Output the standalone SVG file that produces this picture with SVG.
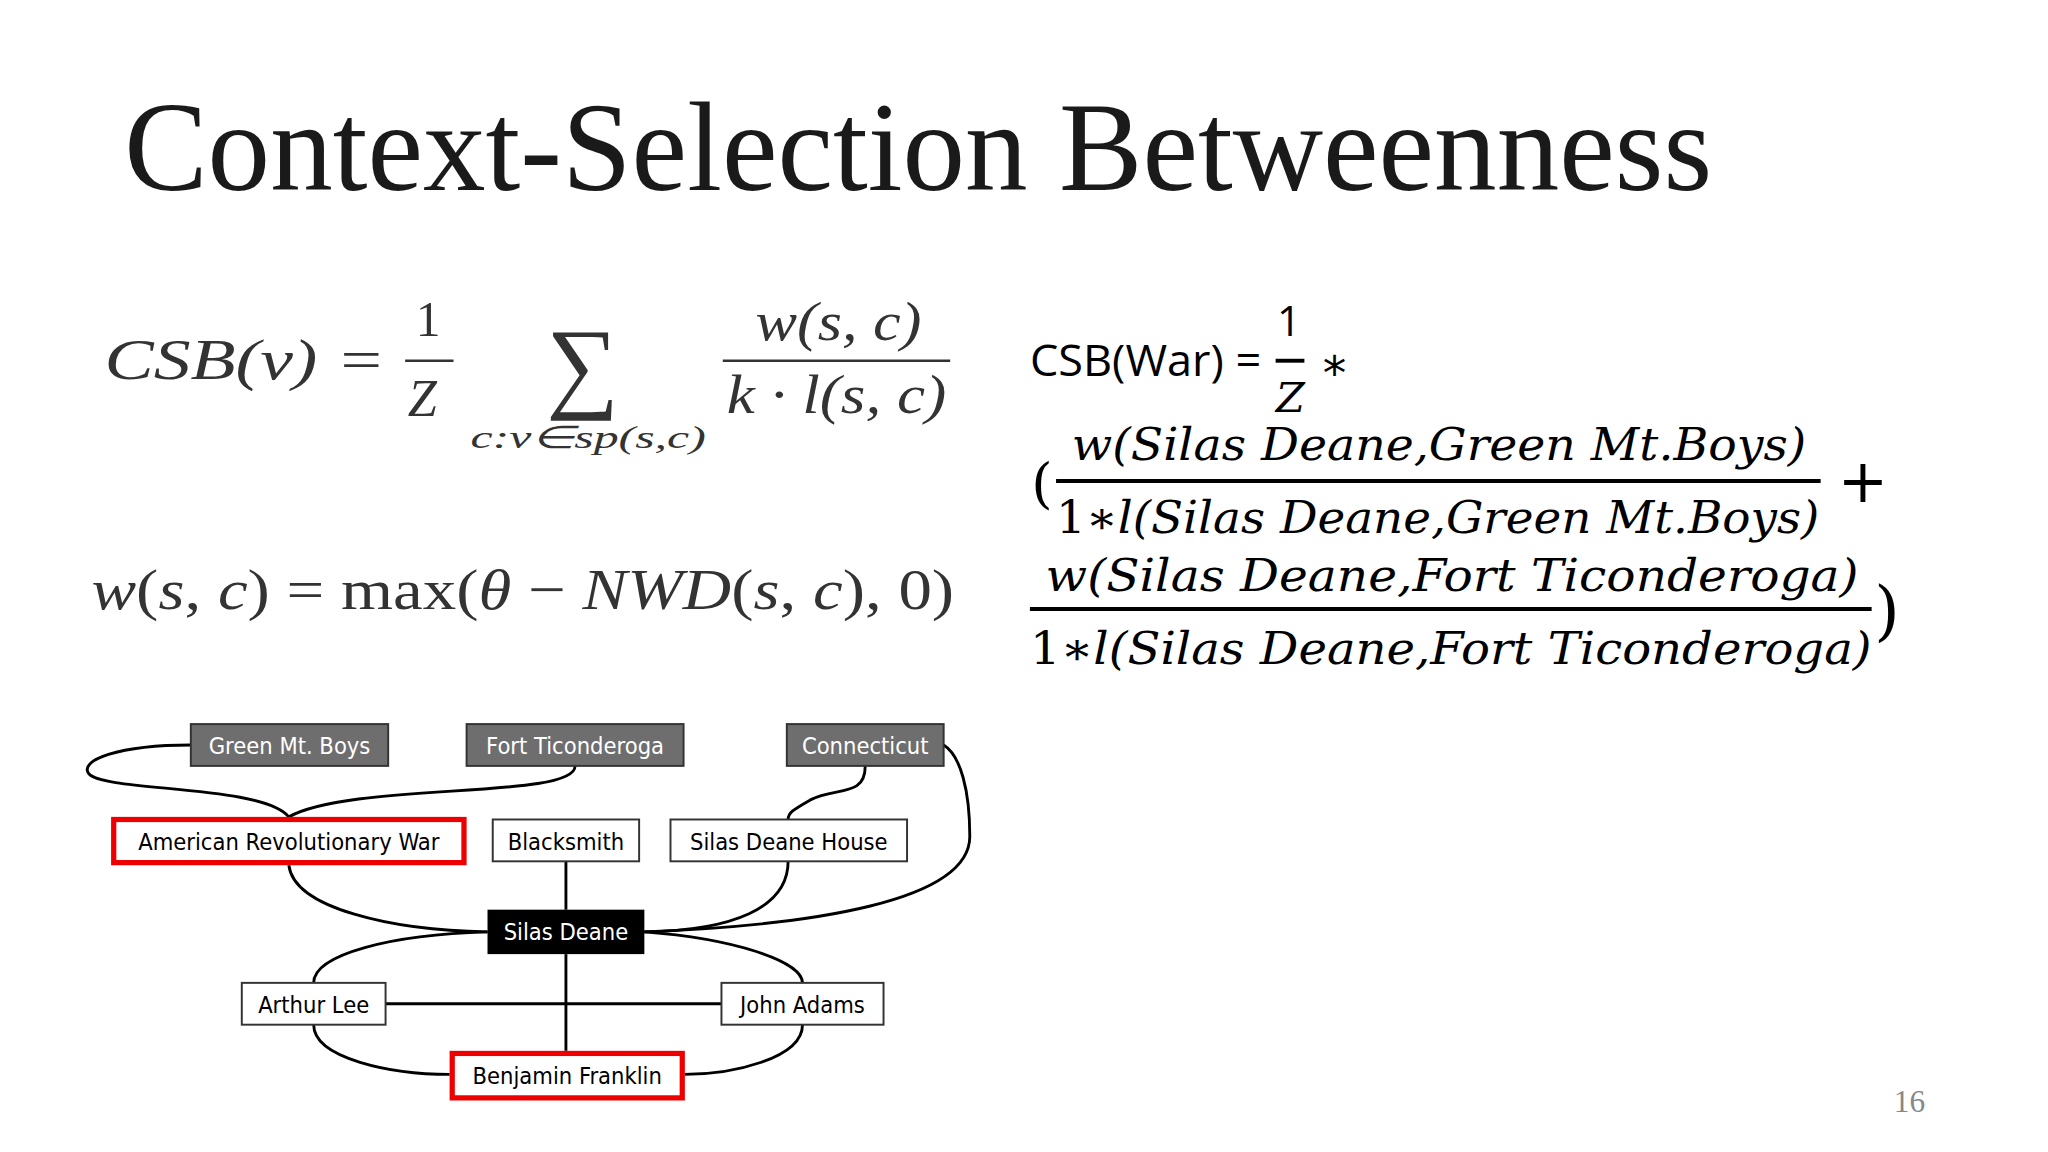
<svg xmlns="http://www.w3.org/2000/svg" width="2048" height="1152" viewBox="0 0 2048 1152">
<style>
.tex{font-family:"Liberation Serif",serif;fill:#333}
.ti{font-style:italic}
.mi{font-family:"DejaVu Serif","Liberation Serif",serif;font-style:italic;fill:#000}
.nd{font-family:"DejaVu Sans Condensed","Liberation Sans",sans-serif;font-size:18px}
.e{fill:none;stroke:#000;stroke-width:2.2}
.gray{fill:#6e6e6e;stroke:#333;stroke-width:1.5}
.wht{fill:#fff;stroke:#333;stroke-width:1.5}
.red{fill:#fff;stroke:#e00;stroke-width:4}
</style>
<rect width="2048" height="1152" fill="#fff"/>
<g transform="scale(1.307)">
<text x="95" y="145" font-family="Liberation Serif,serif" font-size="98" fill="#1a1a1a" textLength="1215" lengthAdjust="spacingAndGlyphs">Context-Selection Betweenness</text>

<g id="formula-csb" class="tex">
<text x="80" y="290" font-size="44" class="ti" textLength="215" lengthAdjust="spacingAndGlyphs">CSB(v) =</text>
<text x="318" y="257" font-size="38">1</text>
<line x1="310" y1="276" x2="347" y2="276" stroke="#333" stroke-width="2"/>
<text x="312" y="318" font-size="40" class="ti">Z</text>
<text x="418" y="305" font-size="78">∑</text>
<text x="360" y="343" font-size="24" class="ti" textLength="180" lengthAdjust="spacingAndGlyphs">c:v∈sp(s,c)</text>
<text x="578" y="260" font-size="42" class="ti" textLength="127" lengthAdjust="spacingAndGlyphs">w(s, c)</text>
<line x1="553" y1="276" x2="727" y2="276" stroke="#333" stroke-width="2"/>
<text x="556" y="316" font-size="42" class="ti" textLength="168" lengthAdjust="spacingAndGlyphs">k · l(s, c)</text>
</g>
<g id="formula-w" class="tex">
<text x="70" y="466" font-size="44" textLength="660" lengthAdjust="spacingAndGlyphs"><tspan class="ti">w</tspan>(<tspan class="ti">s</tspan>, <tspan class="ti">c</tspan>) = max(<tspan class="ti">θ</tspan> − <tspan class="ti">NWD</tspan>(<tspan class="ti">s</tspan>, <tspan class="ti">c</tspan>), 0)</text>
</g>

<g id="formula-war">
<text x="788" y="288" font-family="Open Sans,Liberation Sans,sans-serif" font-size="33" textLength="177" lengthAdjust="spacingAndGlyphs">CSB(War) =</text>
<text x="977" y="257" font-family="Open Sans,sans-serif" font-size="32">1</text>
<line x1="976" y1="276" x2="998" y2="276" stroke="#000" stroke-width="3"/>
<text x="976" y="315" class="mi" font-size="32">Z</text>
<text x="1012" y="298" font-family="DejaVu Sans,sans-serif" font-size="36">*</text>
<text x="789" y="384" font-family="DejaVu Serif,serif" font-size="42">(</text>
<text x="820" y="352" class="mi" font-size="34" textLength="562" lengthAdjust="spacingAndGlyphs">w(Silas Deane,Green Mt.Boys)</text>
<line x1="808" y1="368" x2="1393" y2="368" stroke="#000" stroke-width="3"/>
<text x="808" y="408" class="mi" font-size="34" textLength="584" lengthAdjust="spacingAndGlyphs"><tspan font-style="normal">1∗</tspan>l(Silas Deane,Green Mt.Boys)</text>
<text x="1406" y="384" font-family="DejaVu Sans,sans-serif" font-size="46">+</text>
<text x="800" y="452" class="mi" font-size="34" textLength="622" lengthAdjust="spacingAndGlyphs">w(Silas Deane,Fort Ticonderoga)</text>
<line x1="788" y1="466" x2="1432" y2="466" stroke="#000" stroke-width="3"/>
<text x="788" y="508" class="mi" font-size="34" textLength="644" lengthAdjust="spacingAndGlyphs"><tspan font-style="normal">1∗</tspan>l(Silas Deane,Fort Ticonderoga)</text>
<text x="1434" y="484" font-family="DejaVu Serif,serif" font-size="50">)</text>
</g>

<g id="connectors">
<path class="e" d="M146,570 C90,570 60,582 68,592 C80,606 200,600 221,625"/>
<path class="e" d="M440,586 C440,612 270,598 221,625"/>
<path class="e" d="M662,586 C662,610 640,602 620,612 C606,620 603,622 603,627"/>
<path class="e" d="M722,570 C735,578 742,605 742,640 C742,690 620,708 493,713"/>
<path class="e" d="M221,662 C225,695 300,712 373,713"/>
<path class="e" d="M433,659 L433,696"/>
<path class="e" d="M603,659 C603,695 560,712 493,713"/>
<path class="e" d="M373,713 C300,715 240,730 240,752"/>
<path class="e" d="M493,713 C560,718 614,735 614,752"/>
<path class="e" d="M433,730 L433,804"/>
<path class="e" d="M295,768 L552,768"/>
<path class="e" d="M240,784 C240,810 300,822 344,822"/>
<path class="e" d="M614,784 C614,810 560,822 524,822"/>
</g>

<g id="n-green"><rect class="gray" x="146" y="554" width="151" height="32"/><text class="nd" x="221.5" y="577" text-anchor="middle" fill="#fff">Green Mt. Boys</text></g>
<g id="n-fort"><rect class="gray" x="357" y="554" width="166" height="32"/><text class="nd" x="440" y="577" text-anchor="middle" fill="#fff">Fort Ticonderoga</text></g>
<g id="n-conn"><rect class="gray" x="602" y="554" width="120" height="32"/><text class="nd" x="662" y="577" text-anchor="middle" fill="#fff">Connecticut</text></g>
<g id="n-arw"><rect class="red" x="87" y="627" width="268" height="33"/><text class="nd" x="221" y="650" text-anchor="middle" fill="#000">American Revolutionary War</text></g>
<g id="n-black"><rect class="wht" x="377" y="627" width="112" height="32"/><text class="nd" x="433" y="650" text-anchor="middle" fill="#000">Blacksmith</text></g>
<g id="n-sdh"><rect class="wht" x="513" y="627" width="181" height="32"/><text class="nd" x="603.5" y="650" text-anchor="middle" fill="#000">Silas Deane House</text></g>
<g id="n-sd"><rect x="373" y="696" width="120" height="34" fill="#000"/><text class="nd" x="433" y="719" text-anchor="middle" fill="#fff">Silas Deane</text></g>
<g id="n-lee"><rect class="wht" x="185" y="752" width="110" height="32"/><text class="nd" x="240" y="775" text-anchor="middle" fill="#000">Arthur Lee</text></g>
<g id="n-adams"><rect class="wht" x="552" y="752" width="124" height="32"/><text class="nd" x="614" y="775" text-anchor="middle" fill="#000">John Adams</text></g>
<g id="n-franklin"><rect class="red" x="346" y="806" width="176" height="34"/><text class="nd" x="434" y="829" text-anchor="middle" fill="#000">Benjamin Franklin</text></g>

<text x="1449" y="851" font-family="Liberation Serif,serif" font-size="24" fill="#888">16</text>
</g>
</svg>
